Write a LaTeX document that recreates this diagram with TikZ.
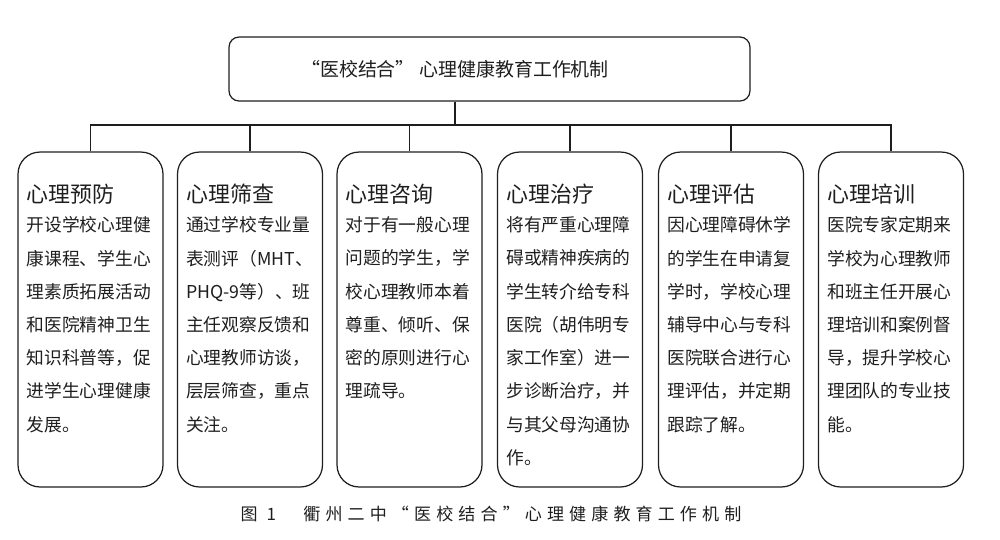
\documentclass[tikz,border=0pt]{standalone}
\usepackage{fontspec}
\setmainfont{Noto Sans CJK SC}
\newfontfamily\capfont{Noto Sans CJK SC}[LetterSpace=30]
\usetikzlibrary{positioning,calc}
\definecolor{inkGray}{RGB}{30,30,30}

\begin{document}
\begin{tikzpicture}[x=0.02cm, y=-0.02cm,
    box/.style={draw=inkGray, line width=0.7pt, rounded corners=0.44cm,
      minimum width=2.9cm, minimum height=6.7cm, inner sep=0pt},
    head/.style={anchor=base west, inner sep=0pt, text=inkGray,
      font=\fontsize{12.5pt}{15pt}\selectfont},
    body/.style={anchor=north west, inner sep=0pt, align=left, text=inkGray,
      font=\fontsize{10.1pt}{18.9pt}\selectfont},
    link/.style={draw=inkGray, line width=0.7pt}]
  \useasboundingbox (0,0) rectangle (1000,539);

  % top of the tree
  \node[draw=inkGray, line width=0.7pt, rounded corners=0.2cm,
    minimum width=10.42cm, minimum height=1.28cm] (top) at (489.5,69) {};
  \node[text=inkGray, font=\fontsize{10.8pt}{13pt}\selectfont] (title) at (455,69)
    {“医校结合” 心理健康教育工作机制};

  % the six branches
  \node[box] (b1) at (90.5,319.5) {};
  \node[box] (b2) at (250,319.5) {};
  \node[box] (b3) at (409.5,319.5) {};
  \node[box] (b4) at (570,319.5) {};
  \node[box] (b5) at (731,319.5) {};
  \node[box] (b6) at (891,319.5) {};

  \node[head] (h1) at ($(b1.north west)+(9,51)$) {心理预防};
  \node[body] (d1) at ($(b1.north west)+(9,65)$)
    {开设学校心理健\\康课程、学生心\\理素质拓展活动\\和医院精神卫生\\知识科普等，促\\进学生心理健康\\发展。};

  \node[head] (h2) at ($(b2.north west)+(9,51)$) {心理筛查};
  \node[body] (d2) at ($(b2.north west)+(9,65)$)
    {通过学校专业量\\表测评（MHT、\\PHQ-9等）、班\\主任观察反馈和\\心理教师访谈，\\层层筛查，重点\\关注。};

  \node[head] (h3) at ($(b3.north west)+(9,51)$) {心理咨询};
  \node[body] (d3) at ($(b3.north west)+(9,65)$)
    {对于有一般心理\\问题的学生，学\\校心理教师本着\\尊重、倾听、保\\密的原则进行心\\理疏导。};

  \node[head] (h4) at ($(b4.north west)+(9,51)$) {心理治疗};
  \node[body] (d4) at ($(b4.north west)+(9,65)$)
    {将有严重心理障\\碍或精神疾病的\\学生转介给专科\\医院（胡伟明专\\家工作室）进一\\步诊断治疗，并\\与其父母沟通协\\作。};

  \node[head] (h5) at ($(b5.north west)+(9,51)$) {心理评估};
  \node[body] (d5) at ($(b5.north west)+(9,65)$)
    {因心理障碍休学\\的学生在申请复\\学时，学校心理\\辅导中心与专科\\医院联合进行心\\理评估，并定期\\跟踪了解。};

  \node[head] (h6) at ($(b6.north west)+(9,51)$) {心理培训};
  \node[body] (d6) at ($(b6.north west)+(9,65)$)
    {医院专家定期来\\学校为心理教师\\和班主任开展心\\理培训和案例督\\导，提升学校心\\理团队的专业技\\能。};

  % connectors
  \coordinate (bus) at (455,125);
  \draw[link] (title |- top.south) -- (bus);
  \draw[link] (b1.north) -- (b1.north |- bus) -- (b6.north |- bus) -- (b6.north);
  \foreach \b in {b2,b3,b4,b5}
    \draw[link] (\b.north) -- (\b.north |- bus);

  % caption
  \node[text=inkGray, font=\capfont\fontsize{9.7pt}{12pt}\selectfont] (cap) at (491,514)
    {图 1　衢州二中“医校结合”心理健康教育工作机制};
\end{tikzpicture}
\end{document}
